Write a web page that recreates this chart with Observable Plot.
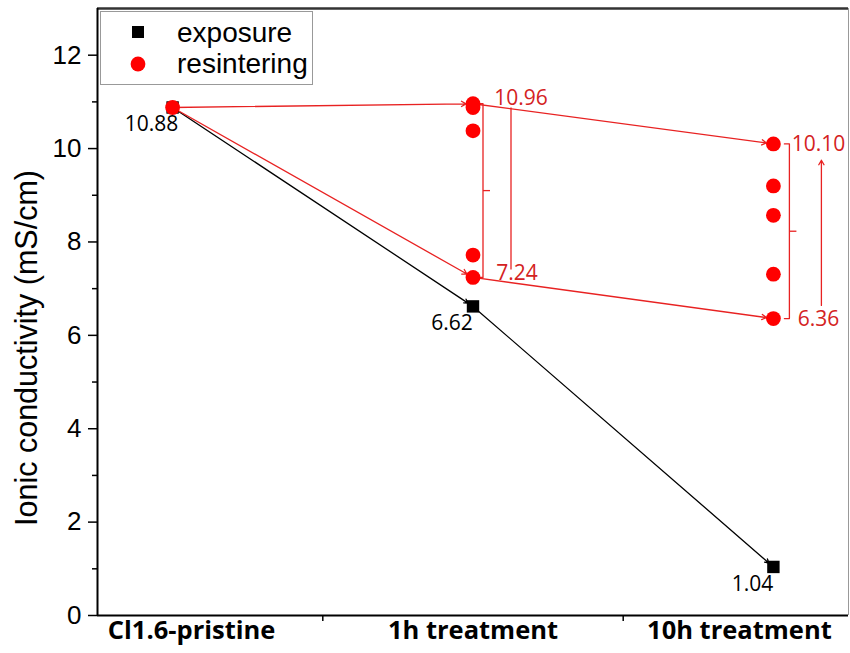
<!DOCTYPE html>
<html>
<head>
<meta charset="utf-8">
<script src="https://cdn.jsdelivr.net/npm/d3@7"></script>
<script src="https://cdn.jsdelivr.net/npm/@observablehq/plot@0.6"></script>
<style>
  html, body { margin: 0; padding: 0; background: #fff; }
  #chart { width: 850px; height: 653px; }
</style>
</head>
<body>
<div id="chart"></div>
<script>
// ---- data ----
const categories = ["Cl1.6-pristine", "1h treatment", "10h treatment"];
const exposureValues = [10.88, 6.62, 1.04];
const exposureLabels = ["10.88", "6.62", "1.04"];

const resinterCat = [0, 1, 1, 1, 1, 1, 2, 2, 2, 2, 2];
const resinterValues = [10.88, 10.96, 10.88, 10.38, 7.72, 7.24, 10.10, 9.20, 8.57, 7.31, 6.36];

const upperPath = [10.88, 10.96, 10.10];
const lowerPath = [10.88, 7.24, 6.36];

const rangeCat = [1, 2];
const rangeMax = [10.96, 10.10];
const rangeMin = [7.24, 6.36];
const rangeMaxLabels = ["10.96", "10.10"];
const rangeMinLabels = ["7.24", "6.36"];

const yMajorTicks = [0, 2, 4, 6, 8, 10, 12];
const yMinorTicks = [1, 3, 5, 7, 9, 11];
const yTitle = "Ionic conductivity (mS/cm)";
const legendNames = ["exposure", "resintering"];

// ---- build tables ----
const exposure = exposureValues.map((v, i) => ({cat: i, val: v, label: exposureLabels[i]}));
const resinter = resinterValues.map((v, i) => ({cat: resinterCat[i], val: v}));
function segments(path) {
  return path.slice(1).map((v, i) => ({x1: i, y1: path[i], x2: i + 1, y2: v}));
}
const width = 850, height = 653;
const margin = {top: 8, right: 2, bottom: 38, left: 97};
const xDomain = [-0.25, 2.25];
const pxX = (p) => p * (xDomain[1] - xDomain[0]) / (width - margin.left - margin.right);

const RED = "#ff0000";
const RED_LINE = "#e82222";
const RED_TEXT = "#d42222";
const LABEL_FONT = "Open Sans, Liberation Sans, sans-serif";
const SANS = "Liberation Sans, Arial, sans-serif";
const catLabelShift = [19, 0, -34];

const ranges = rangeCat.map((c, i) => ({cat: c, top: rangeMax[i], bottom: rangeMin[i], mid: (rangeMax[i] + rangeMin[i]) / 2,
  topLabel: rangeMaxLabels[i], bottomLabel: rangeMinLabels[i]}));

// bracket paths (a "]" shape with a spike in the middle)
const bracketLines = [];
ranges.forEach((r, k) => {
  const xb = r.cat + pxX(10 + 6 * k);
  const hook = pxX(5);
  bracketLines.push({id: k, x: xb - hook, y: r.top}, {id: k, x: xb, y: r.top}, {id: k, x: xb, y: r.bottom}, {id: k, x: xb - hook, y: r.bottom});
});
const spikes = ranges.map((r, k) => ({x1: r.cat + pxX(10 + 6 * k), x2: r.cat + pxX(17 + 6 * k), y: r.mid}));
// connector lines between the two range labels
const connectors = [
  {x: 1 + pxX(38), y1: 7.40, y2: 10.87, head: false},
  {x: 2 + pxX(48), y1: 6.64, y2: 9.75, head: true}
];

const plot = Plot.plot({
  width, height,
  marginTop: margin.top, marginRight: margin.right, marginBottom: margin.bottom, marginLeft: margin.left,
  x: {domain: xDomain},
  y: {domain: [0, 13]},
  marks: [
    // frame
    Plot.ruleY([13], {stroke: "#333", strokeWidth: 2.5}),
    Plot.ruleX([xDomain[1]], {stroke: "#999", strokeWidth: 1}),
    // axes
    Plot.axisY({ticks: yMajorTicks, tickSize: 9, tickPadding: 7, label: null, fontSize: 26,
      fontFamily: SANS, stroke: "#000", strokeWidth: 1.5}),
    Plot.axisY({ticks: yMinorTicks, tickSize: 5, tickFormat: () => "", label: null, strokeWidth: 1.5}),
    ...categories.map((c, i) => Plot.axisX({ticks: [i], tickSize: 0, tickPadding: 5, tickFormat: (j) => categories[j],
      label: null, dx: catLabelShift[i], fontSize: 25.5, fontWeight: "bold", fontFamily: LABEL_FONT})),
    Plot.axisX({ticks: [0.5, 1.5], tickSize: 6, tickFormat: () => "", label: null, strokeWidth: 1.5}),
    Plot.ruleX([xDomain[0]], {stroke: "#000", strokeWidth: 2}),
    Plot.ruleY([0], {stroke: "#000", strokeWidth: 2}),
    Plot.text([yTitle], {frameAnchor: "left", textAnchor: "middle", rotate: -90, dx: -70, dy: 36, fontSize: 30.5,
      fontFamily: SANS, fill: "#000"}),

    // exposure line
    Plot.arrow(segments(exposureValues), {x1: "x1", y1: "y1", x2: "x2", y2: "y2", stroke: "#000", strokeWidth: 1.3,
      headLength: 5, insetEnd: 6}),
    // resintering paths
    Plot.arrow(segments(upperPath), {x1: "x1", y1: "y1", x2: "x2", y2: "y2", stroke: RED_LINE, strokeWidth: 1.3,
      headLength: 6, insetEnd: 7}),
    Plot.arrow(segments(lowerPath), {x1: "x1", y1: "y1", x2: "x2", y2: "y2", stroke: RED_LINE, strokeWidth: 1.3,
      headLength: 6, insetEnd: 7}),

    // brackets and connectors
    Plot.line(bracketLines, {x: "x", y: "y", z: "id", stroke: RED_LINE, strokeWidth: 1.3}),
    Plot.link(spikes, {x1: "x1", x2: "x2", y1: "y", y2: "y", stroke: RED_LINE, strokeWidth: 1.3}),
    Plot.ruleX(connectors.filter(d => !d.head), {x: "x", y1: "y1", y2: "y2", stroke: RED_LINE, strokeWidth: 1.3}),
    Plot.arrow(connectors.filter(d => d.head), {x1: "x", x2: "x", y1: "y1", y2: "y2", stroke: RED_LINE,
      strokeWidth: 1.3, headLength: 6}),

    // markers
    Plot.dot(exposure, {x: "cat", y: "val", symbol: "square", r: 7, fill: "#000", stroke: "none"}),
    Plot.dot(resinter, {x: "cat", y: "val", symbol: "circle", r: 7.4, fill: RED, stroke: "none"}),

    // value labels
    Plot.text(exposure, {x: "cat", y: "val", text: "label", dx: -21, dy: 17, fontSize: 21,
      fontFamily: LABEL_FONT, fill: "#000"}),
    Plot.text(ranges.filter(r => r.cat === 1), {x: "cat", y: "top", text: "topLabel", dx: 48, dy: -5, fontSize: 21,
      fontFamily: LABEL_FONT, fill: RED_TEXT}),
    Plot.text(ranges.filter(r => r.cat === 1), {x: "cat", y: "bottom", text: "bottomLabel", dx: 44, dy: -4, fontSize: 21,
      fontFamily: LABEL_FONT, fill: RED_TEXT}),
    Plot.text(ranges.filter(r => r.cat === 2), {x: "cat", y: "top", text: "topLabel", dx: 45, dy: 0, fontSize: 21,
      fontFamily: LABEL_FONT, fill: RED_TEXT}),
    Plot.text(ranges.filter(r => r.cat === 2), {x: "cat", y: "bottom", text: "bottomLabel", dx: 45, dy: 1, fontSize: 21,
      fontFamily: LABEL_FONT, fill: RED_TEXT})
  ]
});

// legend inside the plot (top-left)
const svg = d3.select(plot);
const lg = svg.append("g").attr("font-family", SANS).attr("font-size", 28).attr("text-anchor", "start");
lg.append("rect").attr("x", 100.5).attr("y", 11.5).attr("width", 212).attr("height", 73)
  .attr("fill", "#fff").attr("stroke", "#999").attr("stroke-width", 1);
lg.append("rect").attr("x", 132).attr("y", 26).attr("width", 12).attr("height", 12).attr("fill", "#000");
lg.append("text").attr("x", 177).attr("y", 42).text(legendNames[0]);
lg.append("circle").attr("cx", 138).attr("cy", 64).attr("r", 7.4).attr("fill", RED);
lg.append("text").attr("x", 177).attr("y", 73).text(legendNames[1]);

document.getElementById("chart").appendChild(plot);
</script>
</body>
</html>
